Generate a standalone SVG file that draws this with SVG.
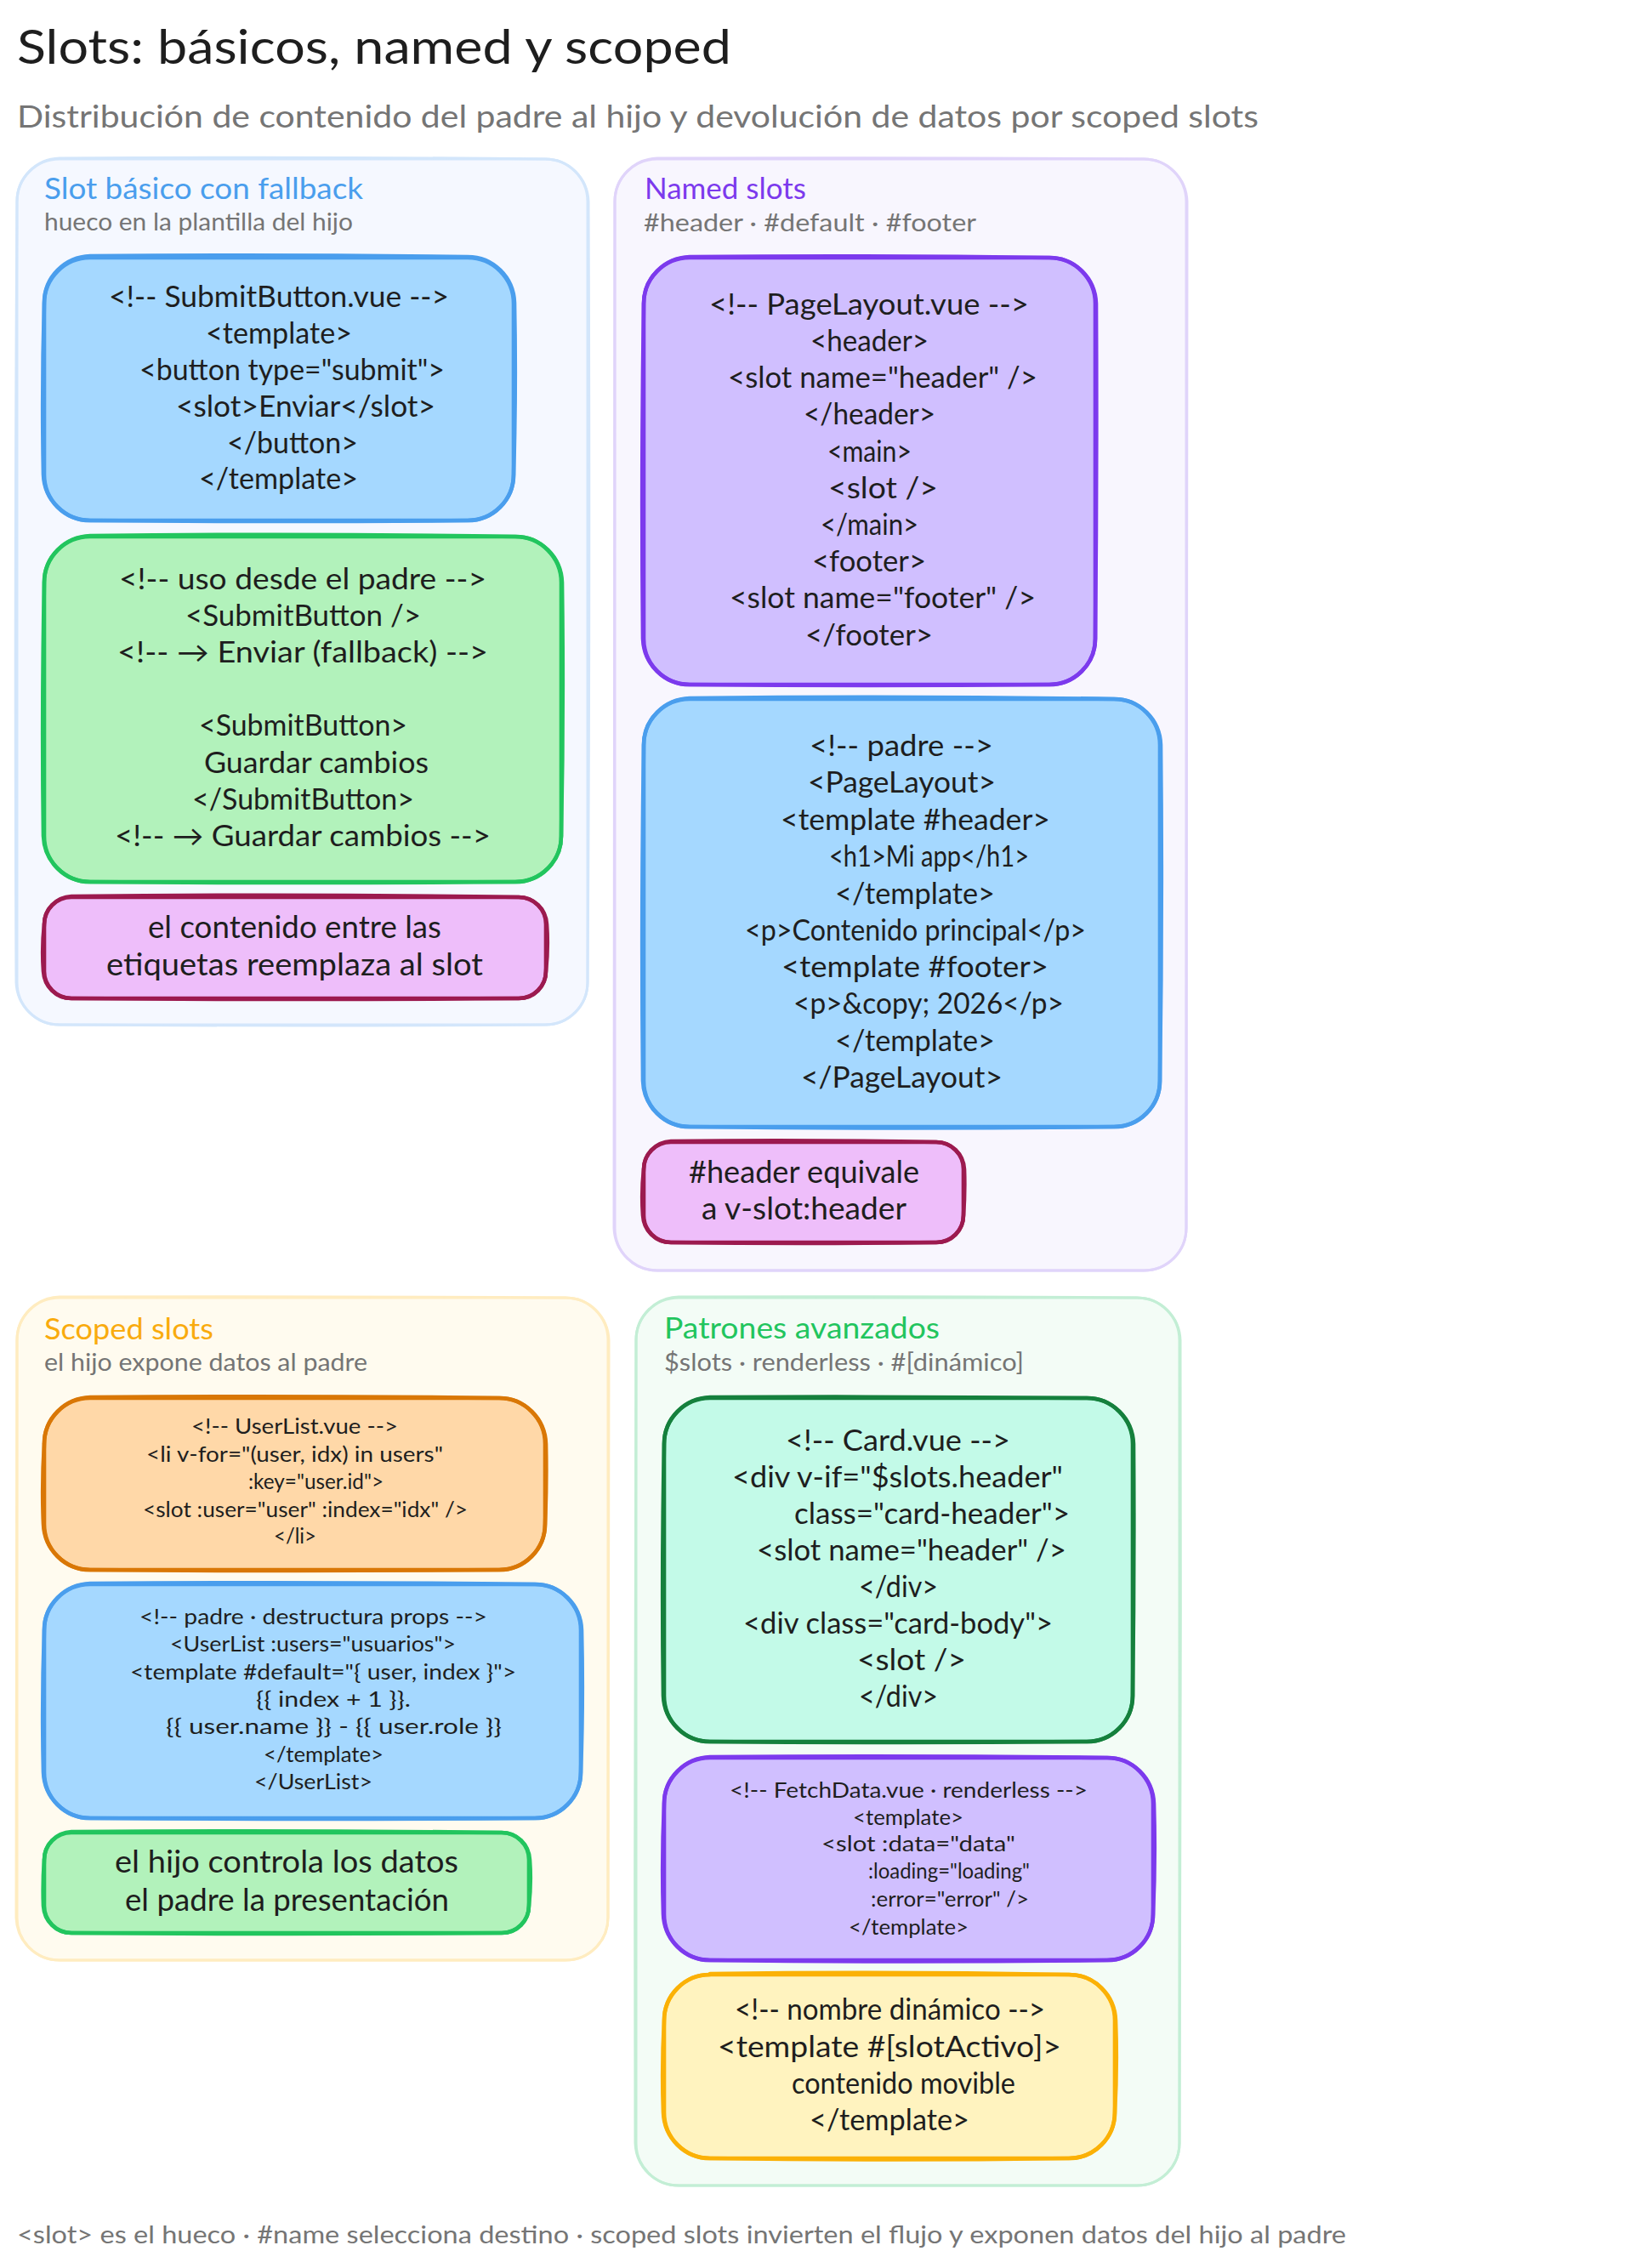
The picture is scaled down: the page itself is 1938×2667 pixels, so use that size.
<svg xmlns="http://www.w3.org/2000/svg" width="1938" height="2667" viewBox="0 0 1938 2667">
<style>
text{font-family:"Lato","Open Sans","Liberation Sans",sans-serif;fill:#1e1e1e}
.h{font-size:56px}.s{font-size:37px;fill:#757575}.t{font-size:34px}.u{font-size:28px;fill:#757575}
.c{font-size:34px}.m{font-size:25.5px}.n{font-size:37px}.f{font-size:29px;fill:#757575}
rect,path{stroke-linejoin:round;stroke-linecap:round}
.o{fill:none;stroke-width:4.6}.p{rx:50px;ry:50px}.q{rx:54px;ry:54px}.r{rx:32px;ry:32px}
.pa{fill:#f5f8ff}.pao{stroke:#d3e6fb;stroke-width:3}.pb{fill:#f8f6fe}.pbo{stroke:#e0d4fa;stroke-width:3}.pc{fill:#fffbef}.pco{stroke:#ffecc0;stroke-width:3}.pd{fill:#f3fcf6}.pdo{stroke:#c3eed5;stroke-width:3}
.blue{fill:#a5d8ff}.blueo{stroke:#4a9eed}.green{fill:#b2f2bb}.greeno{stroke:#22c55e}.pink{fill:#eebefa}.pinko{stroke:#9c1a4f}.purple{fill:#d0bfff}.purpleo{stroke:#7c3aed}.orange{fill:#ffd8a8}.orangeo{stroke:#d97706}.teal{fill:#c3fae8}.tealo{stroke:#15803d}.yellow{fill:#fff3bf}.yellowo{stroke:#fbb106}
</style>
<rect width="1938" height="2667" fill="#ffffff"/>
<text class="h" x="20" y="75" textLength="840" lengthAdjust="spacingAndGlyphs">Slots: básicos, named y scoped</text>
<text class="s" x="20" y="150" textLength="1460" lengthAdjust="spacingAndGlyphs">Distribución de contenido del padre al hijo y devolución de datos por scoped slots</text>

<g id="panel-basico">
<rect class="pa p" x="20" y="187" width="671" height="1018"/>
<rect class="o pao p" x="20" y="187" width="671" height="1018"/><path class="o pao" d="M70 186 Q355 184 641 187 C669 187 691 209 692 237 Q694 696 691 1155 C691 1183 669 1205 641 1205 Q355 1207 70 1205 C42 1205 20 1183 19 1155 Q17 696 20 237 C20 209 42 187 70 186"/>
<text class="t" x="52" y="234" style="fill:#4a9eed" textLength="375" lengthAdjust="spacingAndGlyphs">Slot básico con fallback</text>
<text class="u" x="52" y="271" textLength="363" lengthAdjust="spacingAndGlyphs">hueco en la plantilla del hijo</text>
</g>
<g id="panel-named">
<rect class="pb p" x="723" y="187" width="672" height="1307"/>
<rect class="o pbo p" x="723" y="187" width="672" height="1307"/><path class="o pbo" d="M773 186 Q1060 185 1345 187 C1373 187 1395 209 1396 237 Q1397 840 1395 1444 C1395 1472 1373 1494 1345 1494 Q1060 1495 773 1494 C745 1494 723 1472 722 1444 Q721 840 723 237 C723 209 745 187 773 186"/>
<text class="t" x="758" y="234" style="fill:#7c3aed" textLength="190" lengthAdjust="spacingAndGlyphs">Named slots</text>
<text class="u" x="757" y="272" textLength="391" lengthAdjust="spacingAndGlyphs">#header · #default · #footer</text>
</g>
<g id="panel-scoped">
<rect class="pc p" x="20" y="1526" width="695" height="779"/>
<rect class="o pco p" x="20" y="1526" width="695" height="779"/><path class="o pco" d="M70 1525 Q368 1524 665 1526 C693 1526 715 1548 716 1576 Q717 1915 715 2255 C715 2283 693 2305 665 2305 Q368 2306 70 2305 C42 2305 20 2283 19 2255 Q18 1915 20 1576 C20 1548 42 1526 70 1525"/>
<text class="t" x="52" y="1575" style="fill:#f9ab0e" textLength="199" lengthAdjust="spacingAndGlyphs">Scoped slots</text>
<text class="u" x="52" y="1612" textLength="380" lengthAdjust="spacingAndGlyphs">el hijo expone datos al padre</text>
</g>
<g id="panel-patrones">
<rect class="pd p" x="748" y="1526" width="639" height="1044"/>
<rect class="o pdo p" x="748" y="1526" width="639" height="1044"/><path class="o pdo" d="M798 1525 Q1068 1524 1337 1526 C1365 1526 1387 1548 1388 1576 Q1389 2048 1387 2520 C1387 2548 1365 2570 1337 2570 Q1068 2571 798 2570 C770 2570 748 2548 747 2520 Q746 2048 748 1576 C748 1548 770 1526 798 1525"/>
<text class="t" x="781" y="1574" style="fill:#22c55e" textLength="324" lengthAdjust="spacingAndGlyphs">Patrones avanzados</text>
<text class="u" x="781" y="1612" textLength="423" lengthAdjust="spacingAndGlyphs">$slots · renderless · #[dinámico]</text>
</g>

<g id="submitbutton">
<rect class="blue q" x="52" y="302" width="552" height="310"/>
<rect class="o blueo q" x="52" y="303" width="552" height="309"/><path class="o blueo" d="M106 301 Q328 299 550 302 C580 302 604 326 605 356 Q607 457 604 558 C604 588 580 612 550 612 Q328 614 106 612 C76 612 52 588 51 558 Q49 457 52 356 C52 326 76 302 106 301"/>
<text class="c" x="128" y="361" textLength="400" lengthAdjust="spacingAndGlyphs">&lt;!-- SubmitButton.vue --&gt;</text>
<text class="c" x="242" y="404" textLength="172" lengthAdjust="spacingAndGlyphs">&lt;template&gt;</text>
<text class="c" x="164" y="447" textLength="359" lengthAdjust="spacingAndGlyphs">&lt;button type="submit"&gt;</text>
<text class="c" x="207" y="490" textLength="305" lengthAdjust="spacingAndGlyphs">&lt;slot&gt;Enviar&lt;/slot&gt;</text>
<text class="c" x="267" y="533" textLength="154" lengthAdjust="spacingAndGlyphs">&lt;/button&gt;</text>
<text class="c" x="234" y="575" textLength="187" lengthAdjust="spacingAndGlyphs">&lt;/template&gt;</text>
</g>
<g id="uso-padre">
<rect class="green q" x="52" y="631" width="608" height="406"/>
<rect class="o greeno q" x="52" y="631" width="608" height="406"/><path class="o greeno" d="M106 630 Q356 627 606 631 C636 631 660 655 661 685 Q663 834 660 983 C660 1013 636 1037 606 1037 Q356 1039 106 1037 C76 1037 52 1013 51 983 Q49 834 52 685 C52 655 76 631 106 630"/>
<text class="c" x="140" y="693" textLength="432" lengthAdjust="spacingAndGlyphs">&lt;!-- uso desde el padre --&gt;</text>
<text class="c" x="218" y="736" textLength="277" lengthAdjust="spacingAndGlyphs">&lt;SubmitButton /&gt;</text>
<text class="c" x="138" y="779" textLength="436" lengthAdjust="spacingAndGlyphs">&lt;!-- → Enviar (fallback) --&gt;</text>
<text class="c" x="234" y="865" textLength="245" lengthAdjust="spacingAndGlyphs">&lt;SubmitButton&gt;</text>
<text class="c" x="240" y="909" textLength="264" lengthAdjust="spacingAndGlyphs">Guardar cambios</text>
<text class="c" x="226" y="952" textLength="261" lengthAdjust="spacingAndGlyphs">&lt;/SubmitButton&gt;</text>
<text class="c" x="135" y="995" textLength="442" lengthAdjust="spacingAndGlyphs">&lt;!-- → Guardar cambios --&gt;</text>
</g>
<g id="nota-basico">
<rect class="pink r" x="52" y="1055" width="590" height="119"/>
<rect class="o pinko r" x="52" y="1055" width="590" height="119"/><path class="o pinko" d="M84 1054 Q347 1051 610 1055 C628 1055 642 1069 643 1087 Q645 1114 642 1142 C642 1160 628 1174 610 1174 Q347 1176 84 1174 C66 1174 52 1160 51 1142 Q49 1114 52 1087 C52 1069 66 1055 84 1054"/>
<text class="n" x="174" y="1103" textLength="345" lengthAdjust="spacingAndGlyphs">el contenido entre las</text>
<text class="n" x="125" y="1147" textLength="443" lengthAdjust="spacingAndGlyphs">etiquetas reemplaza al slot</text>
</g>

<g id="pagelayout">
<rect class="purple q" x="757" y="303" width="531" height="502"/>
<rect class="o purpleo q" x="757" y="303" width="531" height="502"/><path class="o purpleo" d="M811 302 Q1022 300 1234 303 C1264 303 1288 327 1289 357 Q1290 554 1288 751 C1288 781 1264 805 1234 805 Q1022 807 811 805 C781 805 757 781 756 751 Q754 554 757 357 C757 327 781 303 811 302"/>
<text class="c" x="834" y="370" textLength="376" lengthAdjust="spacingAndGlyphs">&lt;!-- PageLayout.vue --&gt;</text>
<text class="c" x="953" y="413" textLength="139" lengthAdjust="spacingAndGlyphs">&lt;header&gt;</text>
<text class="c" x="856" y="456" textLength="364" lengthAdjust="spacingAndGlyphs">&lt;slot name="header" /&gt;</text>
<text class="c" x="945" y="499" textLength="155" lengthAdjust="spacingAndGlyphs">&lt;/header&gt;</text>
<text class="c" x="973" y="543" textLength="99" lengthAdjust="spacingAndGlyphs">&lt;main&gt;</text>
<text class="c" x="974" y="586" textLength="129" lengthAdjust="spacingAndGlyphs">&lt;slot /&gt;</text>
<text class="c" x="965" y="629" textLength="115" lengthAdjust="spacingAndGlyphs">&lt;/main&gt;</text>
<text class="c" x="955" y="672" textLength="134" lengthAdjust="spacingAndGlyphs">&lt;footer&gt;</text>
<text class="c" x="858" y="715" textLength="360" lengthAdjust="spacingAndGlyphs">&lt;slot name="footer" /&gt;</text>
<text class="c" x="947" y="759" textLength="150" lengthAdjust="spacingAndGlyphs">&lt;/footer&gt;</text>
</g>
<g id="padre-layout">
<rect class="blue q" x="757" y="822" width="607" height="503"/>
<rect class="o blueo q" x="757" y="822" width="607" height="503"/><path class="o blueo" d="M811 821 Q1060 818 1310 822 C1340 822 1364 846 1365 876 Q1367 1073 1364 1271 C1364 1301 1340 1325 1310 1325 Q1060 1328 811 1325 C781 1325 757 1301 756 1271 Q754 1073 757 876 C757 846 781 822 811 821"/>
<text class="c" x="952" y="889" textLength="216" lengthAdjust="spacingAndGlyphs">&lt;!-- padre --&gt;</text>
<text class="c" x="950" y="932" textLength="221" lengthAdjust="spacingAndGlyphs">&lt;PageLayout&gt;</text>
<text class="c" x="918" y="976" textLength="317" lengthAdjust="spacingAndGlyphs">&lt;template #header&gt;</text>
<text class="c" x="975" y="1019" textLength="235" lengthAdjust="spacingAndGlyphs">&lt;h1&gt;Mi app&lt;/h1&gt;</text>
<text class="c" x="982" y="1063" textLength="188" lengthAdjust="spacingAndGlyphs">&lt;/template&gt;</text>
<text class="c" x="876" y="1106" textLength="401" lengthAdjust="spacingAndGlyphs">&lt;p&gt;Contenido principal&lt;/p&gt;</text>
<text class="c" x="919" y="1149" textLength="314" lengthAdjust="spacingAndGlyphs">&lt;template #footer&gt;</text>
<text class="c" x="933" y="1192" textLength="318" lengthAdjust="spacingAndGlyphs">&lt;p&gt;&amp;copy; 2026&lt;/p&gt;</text>
<text class="c" x="982" y="1236" textLength="188" lengthAdjust="spacingAndGlyphs">&lt;/template&gt;</text>
<text class="c" x="942" y="1279" textLength="237" lengthAdjust="spacingAndGlyphs">&lt;/PageLayout&gt;</text>
</g>
<g id="nota-named">
<rect class="pink r" x="757" y="1343" width="376" height="118"/>
<rect class="o pinko r" x="757" y="1343" width="376" height="118"/><path class="o pinko" d="M789 1342 Q945 1340 1101 1343 C1119 1343 1133 1357 1134 1375 Q1135 1402 1133 1429 C1133 1447 1119 1461 1101 1461 Q945 1463 789 1461 C771 1461 757 1447 756 1429 Q754 1402 757 1375 C757 1357 771 1343 789 1342"/>
<text class="n" x="810" y="1391" textLength="271" lengthAdjust="spacingAndGlyphs">#header equivale</text>
<text class="n" x="825" y="1434" textLength="241" lengthAdjust="spacingAndGlyphs">a v-slot:header</text>
</g>

<g id="userlist">
<rect class="orange q" x="52" y="1644" width="589" height="202"/>
<rect class="o orangeo q" x="52" y="1644" width="589" height="202"/><path class="o orangeo" d="M106 1643 Q346 1641 587 1644 C617 1644 641 1668 642 1698 Q643 1745 641 1792 C641 1822 617 1846 587 1846 Q346 1848 106 1846 C76 1846 52 1822 51 1792 Q49 1745 52 1698 C52 1668 76 1644 106 1643"/>
<text class="m" x="225" y="1686" textLength="243" lengthAdjust="spacingAndGlyphs">&lt;!-- UserList.vue --&gt;</text>
<text class="m" x="172" y="1719" textLength="349" lengthAdjust="spacingAndGlyphs">&lt;li v-for="(user, idx) in users"</text>
<text class="m" x="292" y="1751" textLength="159" lengthAdjust="spacingAndGlyphs">:key="user.id"&gt;</text>
<text class="m" x="168" y="1784" textLength="382" lengthAdjust="spacingAndGlyphs">&lt;slot :user="user" :index="idx" /&gt;</text>
<text class="m" x="322" y="1815" textLength="50" lengthAdjust="spacingAndGlyphs">&lt;/li&gt;</text>
</g>
<g id="padre-destructura">
<rect class="blue q" x="52" y="1863" width="631" height="275"/>
<rect class="o blueo q" x="52" y="1863" width="631" height="275"/><path class="o blueo" d="M106 1862 Q367 1860 629 1863 C659 1863 683 1887 684 1917 Q686 2000 683 2084 C683 2114 659 2138 629 2138 Q367 2140 106 2138 C76 2138 52 2114 51 2084 Q49 2000 52 1917 C52 1887 76 1863 106 1862"/>
<text class="m" x="164" y="1910" textLength="409" lengthAdjust="spacingAndGlyphs">&lt;!-- padre · destructura props --&gt;</text>
<text class="m" x="200" y="1942" textLength="336" lengthAdjust="spacingAndGlyphs">&lt;UserList :users="usuarios"&gt;</text>
<text class="m" x="153" y="1975" textLength="454" lengthAdjust="spacingAndGlyphs">&lt;template #default="{ user, index }"&gt;</text>
<text class="m" x="301" y="2007" textLength="182" lengthAdjust="spacingAndGlyphs">{{ index + 1 }}.</text>
<text class="m" x="195" y="2039" textLength="395" lengthAdjust="spacingAndGlyphs">{{ user.name }} - {{ user.role }}</text>
<text class="m" x="310" y="2072" textLength="141" lengthAdjust="spacingAndGlyphs">&lt;/template&gt;</text>
<text class="m" x="299" y="2104" textLength="139" lengthAdjust="spacingAndGlyphs">&lt;/UserList&gt;</text>
</g>
<g id="nota-scoped">
<rect class="green r" x="52" y="2155" width="570" height="118"/>
<rect class="o greeno r" x="52" y="2155" width="570" height="118"/><path class="o greeno" d="M84 2154 Q337 2152 590 2155 C608 2155 622 2169 623 2187 Q625 2214 622 2241 C622 2259 608 2273 590 2273 Q337 2275 84 2273 C66 2273 52 2259 51 2241 Q50 2214 52 2187 C52 2169 66 2155 84 2154"/>
<text class="n" x="135" y="2202" textLength="404" lengthAdjust="spacingAndGlyphs">el hijo controla los datos</text>
<text class="n" x="147" y="2247" textLength="381" lengthAdjust="spacingAndGlyphs">el padre la presentación</text>
</g>

<g id="card">
<rect class="teal q" x="781" y="1644" width="551" height="404"/>
<rect class="o tealo q" x="781" y="1644" width="551" height="404"/><path class="o tealo" d="M835 1643 Q1056 1642 1278 1644 C1308 1644 1332 1668 1333 1698 Q1334 1846 1332 1994 C1332 2024 1308 2048 1278 2048 Q1056 2050 835 2048 C805 2048 781 2024 780 1994 Q778 1846 781 1698 C781 1668 805 1644 835 1643"/>
<text class="c" x="924" y="1706" textLength="264" lengthAdjust="spacingAndGlyphs">&lt;!-- Card.vue --&gt;</text>
<text class="c" x="861" y="1749" textLength="389" lengthAdjust="spacingAndGlyphs">&lt;div v-if="$slots.header"</text>
<text class="c" x="934" y="1792" textLength="324" lengthAdjust="spacingAndGlyphs">class="card-header"&gt;</text>
<text class="c" x="890" y="1835" textLength="364" lengthAdjust="spacingAndGlyphs">&lt;slot name="header" /&gt;</text>
<text class="c" x="1010" y="1878" textLength="93" lengthAdjust="spacingAndGlyphs">&lt;/div&gt;</text>
<text class="c" x="874" y="1921" textLength="364" lengthAdjust="spacingAndGlyphs">&lt;div class="card-body"&gt;</text>
<text class="c" x="1008" y="1964" textLength="128" lengthAdjust="spacingAndGlyphs">&lt;slot /&gt;</text>
<text class="c" x="1010" y="2007" textLength="93" lengthAdjust="spacingAndGlyphs">&lt;/div&gt;</text>
</g>
<g id="fetchdata">
<rect class="purple q" x="781" y="2067" width="575" height="238"/>
<rect class="o purpleo q" x="781" y="2067" width="575" height="238"/><path class="o purpleo" d="M835 2066 Q1068 2064 1302 2067 C1332 2067 1356 2091 1357 2121 Q1359 2186 1356 2251 C1356 2281 1332 2305 1302 2305 Q1068 2308 835 2305 C805 2305 781 2281 780 2251 Q778 2186 781 2121 C781 2091 805 2067 835 2066"/>
<text class="m" x="858" y="2114" textLength="421" lengthAdjust="spacingAndGlyphs">&lt;!-- FetchData.vue · renderless --&gt;</text>
<text class="m" x="1003" y="2146" textLength="130" lengthAdjust="spacingAndGlyphs">&lt;template&gt;</text>
<text class="m" x="966" y="2177" textLength="228" lengthAdjust="spacingAndGlyphs">&lt;slot :data="data"</text>
<text class="m" x="1021" y="2209" textLength="190" lengthAdjust="spacingAndGlyphs">:loading="loading"</text>
<text class="m" x="1024" y="2242" textLength="186" lengthAdjust="spacingAndGlyphs">:error="error" /&gt;</text>
<text class="m" x="998" y="2275" textLength="141" lengthAdjust="spacingAndGlyphs">&lt;/template&gt;</text>
</g>
<g id="dinamico">
<rect class="yellow q" x="781" y="2322" width="530" height="216"/>
<rect class="o yellowo q" x="781" y="2322" width="530" height="216"/><path class="o yellowo" d="M835 2321 Q1046 2318 1257 2322 C1287 2322 1311 2346 1312 2376 Q1314 2430 1311 2484 C1311 2514 1287 2538 1257 2538 Q1046 2541 835 2538 C805 2538 781 2514 780 2484 Q778 2430 781 2376 C781 2346 805 2322 835 2322"/>
<text class="c" x="864" y="2375" textLength="365" lengthAdjust="spacingAndGlyphs">&lt;!-- nombre dinámico --&gt;</text>
<text class="c" x="844" y="2419" textLength="404" lengthAdjust="spacingAndGlyphs">&lt;template #[slotActivo]&gt;</text>
<text class="c" x="931" y="2462" textLength="263" lengthAdjust="spacingAndGlyphs">contenido movible</text>
<text class="c" x="952" y="2505" textLength="188" lengthAdjust="spacingAndGlyphs">&lt;/template&gt;</text>
</g>

<text class="f" x="20" y="2638" textLength="1563" lengthAdjust="spacingAndGlyphs">&lt;slot&gt; es el hueco · #name selecciona destino · scoped slots invierten el flujo y exponen datos del hijo al padre</text>
</svg>
